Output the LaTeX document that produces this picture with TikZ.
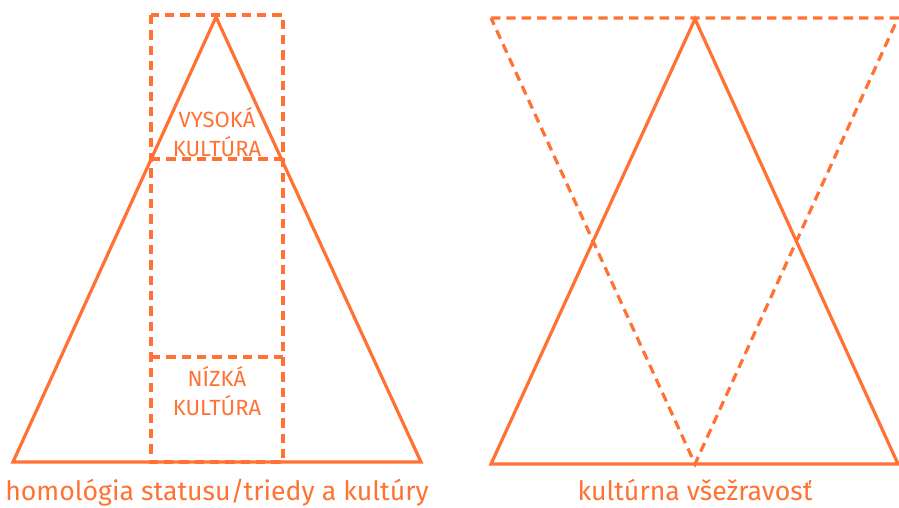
\documentclass[tikz,border=0pt]{standalone}
\usepackage{fontspec}
\setmainfont{Fira Sans}
\usepackage{tikz}

\definecolor{kOrange}{RGB}{255,114,52}

\begin{document}
\begin{tikzpicture}[x=0.75pt,y=0.75pt,yscale=-1,xscale=1,
  solidline/.style={draw=kOrange, line width=2.4pt, line join=miter},
  dashline/.style={draw=kOrange, line width=2.4pt, dash pattern={on 7pt off 4.5pt}},
  label/.style={text=kOrange, inner sep=0.75pt, align=center, font=\fontsize{16.5}{22}\selectfont},
  caption/.style={text=kOrange, inner sep=0.75pt, anchor=base, font=\fontsize{20}{24}\selectfont}]
\useasboundingbox (0,0) rectangle (899,507);

%Shape: Rectangle [dashed column]
\draw [dashline] (151,15) rectangle (283,462) ;
%Straight Lines [upper cut]
\draw [dashline] (151,159) -- (283,159) ;
%Straight Lines [lower cut]
\draw [dashline] (151,357) -- (283,357) ;
%Shape: Triangle [left]
\draw [solidline] (216,17) -- (421,462) -- (13,462) -- cycle ;

%Shape: Triangle [inverted, dashed]
\draw [dashline] (491,18) -- (898,18) -- (695,464) -- cycle ;
%Shape: Triangle [right]
\draw [solidline] (695,19) -- (898,464) -- (491,464) -- cycle ;

% Text Node
\node [label] (high) at (217,132) {VYSOKÁ\\KULTÚRA};
% Text Node
\node [label] (low) at (217,391) {NÍZKÁ\\KULTÚRA};
% Text Node
\node [caption] (homology) at (217,500) {homológia statusu/triedy a kultúry};
% Text Node
\node [caption] (omnivore) at (695,500) {kultúrna všežravosť};

\end{tikzpicture}
\end{document}
